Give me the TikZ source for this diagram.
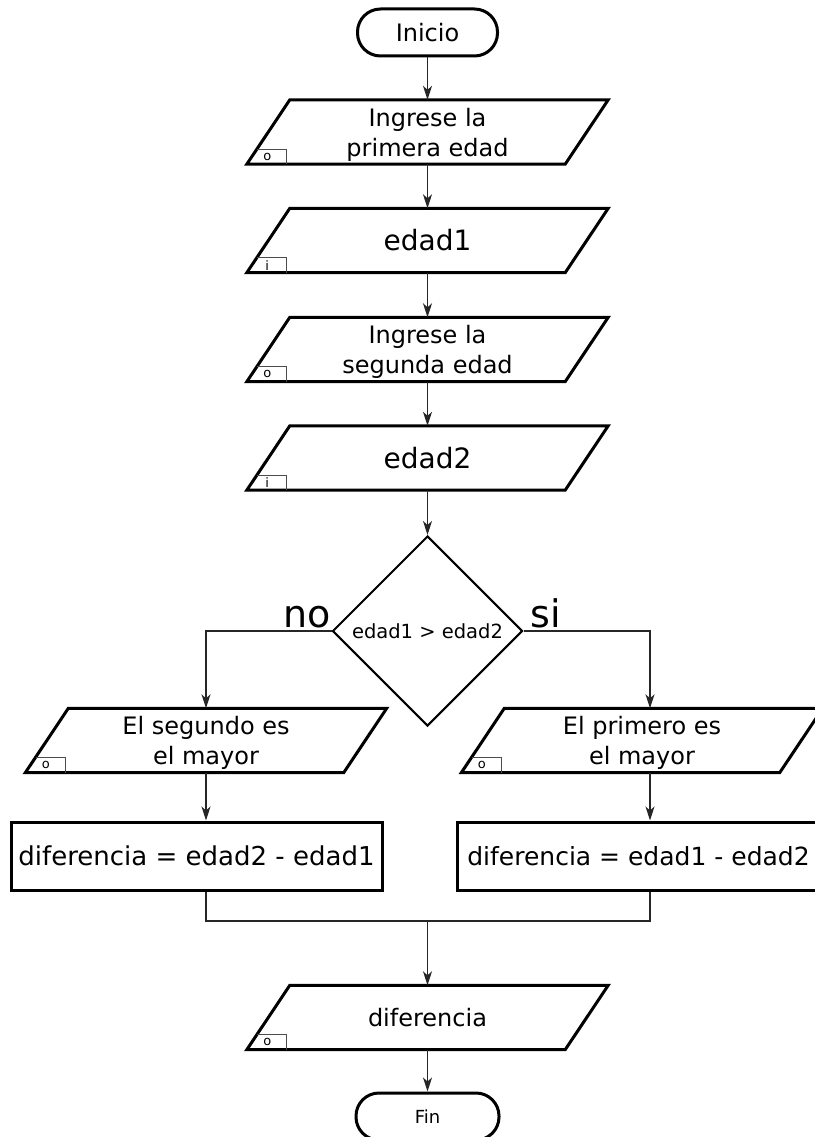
\documentclass[tikz,border=0pt]{standalone}
\usepackage{fontspec}
\setmainfont{DejaVu Sans}
\usetikzlibrary{shapes.geometric,arrows.meta,calc}
\tikzset{
 flow/.style={draw=black!85, line width=1.3pt, -{Stealth[length=14pt,width=9pt,inset=4pt]}},
 joinline/.style={draw=black!85, line width=1.3pt},
 term/.style={draw, line width=3pt, rounded corners=23pt, minimum width=140pt, minimum height=47pt, inner sep=0, font=\fontsize{24}{29}\selectfont},
 iobox/.style={minimum width=318pt, minimum height=64pt, inner sep=0, align=center, font=\fontsize{24}{30}\selectfont},
 iotwo/.style={iobox, text depth=-2pt},
 iobig/.style={iobox, font=\fontsize{28}{32}\selectfont},
 proc/.style={draw, line width=3pt, minimum height=68pt, inner sep=0, font=\fontsize{26}{31}\selectfont},
 dec/.style={draw, diamond, line width=2pt, minimum width=190pt, minimum height=190pt, inner sep=0, font=\fontsize{19.5}{23}\selectfont},
 ptag/.style={font=\fontsize{13}{15}\selectfont, inner sep=0},
 blabel/.style={font=\fontsize{38}{44}\selectfont, inner sep=0},
 paraedge/.style={line width=3pt},
 tagedge/.style={line width=0.8pt, draw=black!70},
}
\newcommand{\iopara}[2]{%
 \draw[paraedge] ($(#1.north west)+(21.5,0)$) -- ($(#1.north east)+(21.5,0)$) -- ($(#1.south east)+(-21.5,0)$) -- ($(#1.south west)+(-21.5,0)$) -- cycle;
 \draw[tagedge] ($(#1.south west)+(-11.3,-15)$) -- ($(#1.south west)+(18.5,-15)$) -- ($(#1.south west)+(18.5,0)$);
 \node[ptag] (#1tag) at ($(#1.south west)+(-1,-7.5)$) {#2};
}
\begin{document}
\begin{tikzpicture}[x=1pt,y=-1pt]
\useasboundingbox (0,0) rectangle (814,1137);
\node[term] (ini) at (427.5,32.5) {Inicio};
\node[iotwo] (p1) at (427.5,132) {Ingrese la\\primera edad};
\iopara{p1}{o}
\node[iobig] (p2) at (427.5,240.5) {edad1};
\iopara{p2}{i}
\node[iotwo] (p3) at (427.5,349.5) {Ingrese la\\segunda edad};
\iopara{p3}{o}
\node[iobig] (p4) at (427.5,458) {edad2};
\iopara{p4}{i}
\node[dec] (d) at (427.5,631) {edad1 > edad2};
\node[blabel, anchor=base east] (no) at (331,627) {no};
\node[blabel, anchor=base west] (si) at (530,627) {si};
\node[iotwo] (lp) at (206,740.5) {El segundo es\\el mayor};
\iopara{lp}{o}
\node[iotwo] (rp) at (642,740.5) {El primero es\\el mayor};
\iopara{rp}{o}
\node[proc, minimum width=371pt] (lr) at (196.5,856) {diferencia = edad2 - edad1};
\node[proc, minimum width=363pt, font=\fontsize{25}{30}\selectfont] (rr) at (638.5,856) {diferencia = edad1 - edad2};
\node[iobox] (p5) at (427.5,1017.5) {diferencia};
\iopara{p5}{o}
\node[term, minimum width=143pt, font=\fontsize{18}{22}\selectfont] (fin) at (427.5,1116.5) {Fin};
\coordinate (lx) at (206,0);
\coordinate (rx) at (650,0);
\coordinate (m) at (427.5,921);
\draw[flow] (ini) -- (p1.north);
\draw[flow] (p1.south) -- (p2.north);
\draw[flow] (p2.south) -- (p3.north);
\draw[flow] (p3.south) -- (p4.north);
\draw[flow] (p4.south) -- (d.north);
\draw[flow] (d.west) -| (lp.north -| lx);
\draw[flow] (d.east) -| (rp.north -| rx);
\draw[flow] (lp.south -| lx) -- (lr.north -| lx);
\draw[flow] (rp.south -| rx) -- (rr.north -| rx);
\draw[joinline] (lr.south -| lx) |- (m) -| (rr.south -| rx);
\draw[flow] (m) -- (p5.north);
\draw[flow] (p5.south) -- (fin.north);
\end{tikzpicture}
\end{document}
